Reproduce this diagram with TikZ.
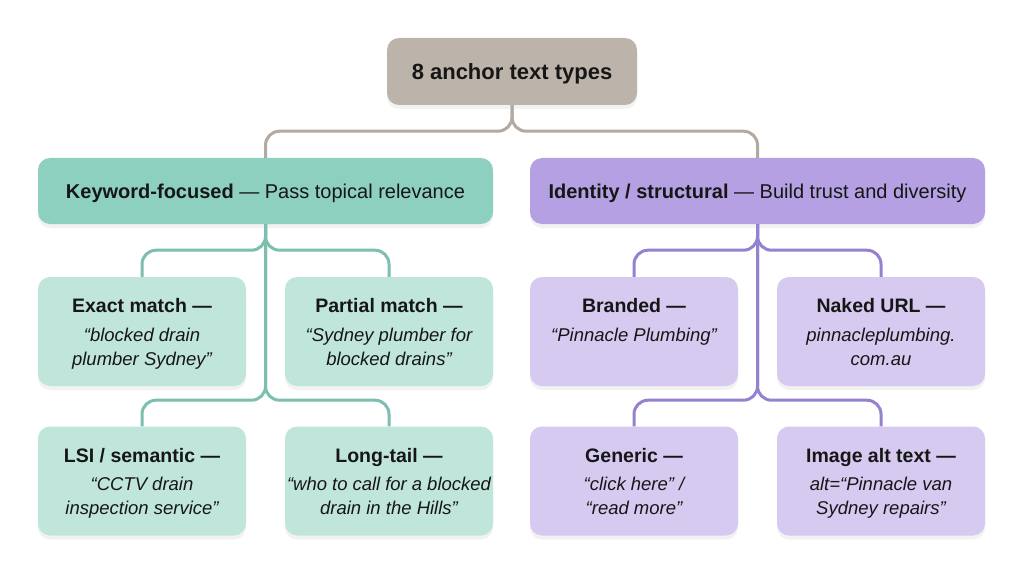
\documentclass[tikz,border=0pt]{standalone}
\usepackage{fontspec}
\setmainfont{Liberation Sans}
\usetikzlibrary{shadows}
\definecolor{rootfill}{RGB}{188,180,170}
\definecolor{rootline}{RGB}{178,170,160}
\definecolor{kwfill}{RGB}{141,208,192}
\definecolor{kwleaf}{RGB}{192,230,220}
\definecolor{kwline}{RGB}{124,190,176}
\definecolor{idfill}{RGB}{180,160,226}
\definecolor{idleaf}{RGB}{214,202,241}
\definecolor{idline}{RGB}{150,128,208}
\definecolor{inkcol}{RGB}{22,22,22}
\newcommand{\leaf}[2]{\parbox[c][66pt][t]{204pt}{\centering
  \fontsize{19.5}{24}\selectfont\textbf{#1}\\[4.5pt]
  \itshape\fontsize{18.5}{24}\selectfont #2}}

\begin{document}
\begin{tikzpicture}[x=1pt, y=-1pt,
    box/.style={rounded corners=12pt, inner sep=0pt, text=inkcol,
      drop shadow={shadow xshift=0pt, shadow yshift=-4pt, opacity=0.10}},
    rootbox/.style={box, fill=rootfill, minimum width=250pt, minimum height=67pt,
      text depth=0pt, font=\fontsize{22}{26}\selectfont\bfseries},
    groupbox/.style={box, minimum width=455pt, minimum height=66pt,
      text depth=0pt, font=\fontsize{20}{24}\selectfont},
    leafbox/.style={box, minimum width=208pt, minimum height=109pt},
    link/.style={line width=3pt, rounded corners=14pt}]
  \useasboundingbox[fill=white] (0,0) rectangle (1024,572);

  % top
  \node[rootbox] (root) at (512,71.5) {8 anchor text types};
  \node[groupbox, fill=kwfill] (kw) at (265.5,191) {\textbf{Keyword-focused} — Pass topical relevance};
  \node[groupbox, fill=idfill] (id) at (757.5,191) {\textbf{Identity / structural} — Build trust and diversity};

  % keyword-focused leaves
  \node[leafbox, fill=kwleaf] (exact) at (142,331.5) {\leaf{Exact match —}{“blocked drain\\plumber Sydney”}};
  \node[leafbox, fill=kwleaf] (partial) at (389,331.5) {\leaf{Partial match —}{“Sydney plumber for\\blocked drains”}};
  \node[leafbox, fill=kwleaf] (lsi) at (142,481) {\leaf{LSI / semantic —}{“CCTV drain\\inspection service”}};
  \node[leafbox, fill=kwleaf] (longtail) at (389,481) {\leaf{Long-tail —}{“who to call for a blocked\\drain in the Hills”}};

  % identity leaves
  \node[leafbox, fill=idleaf] (branded) at (634,331.5) {\leaf{Branded —}{“Pinnacle Plumbing”}};
  \node[leafbox, fill=idleaf] (naked) at (881,331.5) {\leaf{Naked URL —}{pinnacleplumbing.\\com.au}};
  \node[leafbox, fill=idleaf] (generic) at (634,481) {\leaf{Generic —}{“click here” /\\“read more”}};
  \node[leafbox, fill=idleaf] (alttext) at (881,481) {\leaf{Image alt text —}{alt=“Pinnacle van\\Sydney repairs”}};

  % connectors
  \foreach \g in {kw, id}
    \draw[link, rootline] (root.south) -- ++(0,26) -| (\g.north);
  \foreach \c in {exact, partial}
    \draw[link, kwline] (kw.south) -- ++(0,26) -| (\c.north);
  \foreach \c in {lsi, longtail}
    \draw[link, kwline] (kw.south) -- ++(0,176) -| (\c.north);
  \foreach \c in {branded, naked}
    \draw[link, idline] (id.south) -- ++(0,26) -| (\c.north);
  \foreach \c in {generic, alttext}
    \draw[link, idline] (id.south) -- ++(0,176) -| (\c.north);
\end{tikzpicture}
\end{document}
